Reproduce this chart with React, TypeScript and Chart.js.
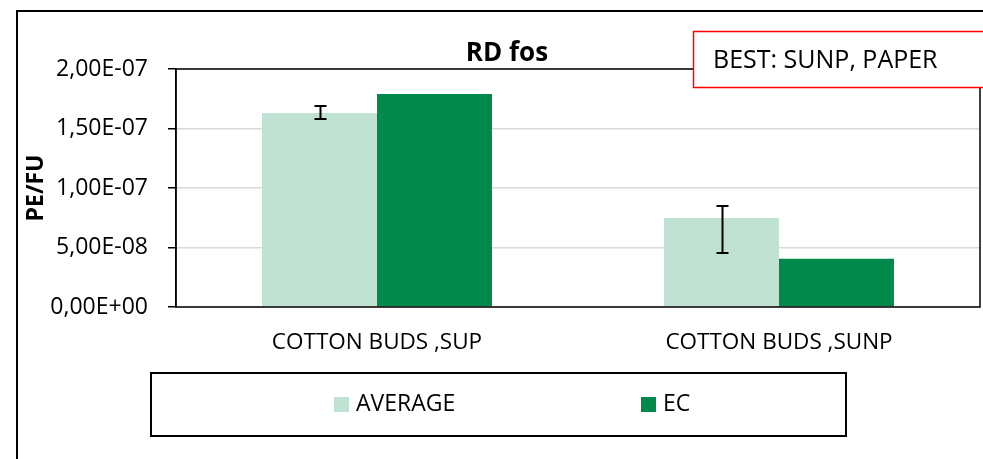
import React, { useEffect, useRef } from "react";
import { Chart, registerables } from "chart.js";

Chart.register(...registerables);

const categories = ["COTTON BUDS ,SUP", "COTTON BUDS ,SUNP"];
const averageValues = [1.63e-7, 7.48e-8];
const averageErrLow = [1.58e-7, 4.54e-8];
const averageErrHigh = [1.69e-7, 8.49e-8];
const ecValues = [1.79e-7, 4.06e-8];
const seriesLabels = ["AVERAGE", "EC"];
const seriesColors = ["#BFE2D3", "#00894B"];
const chartTitle = "RD fos";
const yAxisTitle = "PE/FU";
const noteText = "BEST: SUNP, PAPER";
const yMin = 0;
const yMax = 2e-7;
const yStep = 5e-8;

const FONT = "'Open Sans', 'Liberation Sans', sans-serif";

function sci(v: number): string {
  if (Math.abs(v) < 1e-30) return "0,00E+00";
  let exp = Math.floor(Math.log10(Math.abs(v)) + 1e-9);
  let mant = v / Math.pow(10, exp);
  if (Math.abs(mant) >= 9.995) {
    exp += 1;
    mant = v / Math.pow(10, exp);
  }
  const sign = exp < 0 ? "-" : "+";
  return mant.toFixed(2).replace(".", ",") + "E" + sign + String(Math.abs(exp)).padStart(2, "0");
}

const decorPlugin = {
  id: "decor",
  beforeDraw(chart: any) {
    const ctx = chart.ctx;
    ctx.save();
    ctx.fillStyle = "#ffffff";
    ctx.fillRect(0, 0, chart.width, chart.height);
    ctx.restore();
  },
  afterDatasetsDraw(chart: any) {
    const ctx = chart.ctx;
    const yScale = chart.scales.y;
    const area = chart.chartArea;
    ctx.save();
    // error bars on AVERAGE
    const meta = chart.getDatasetMeta(0);
    ctx.strokeStyle = "#000000";
    ctx.lineWidth = 2;
    meta.data.forEach((bar: any, i: number) => {
      const x = Math.round(bar.x) + 0.5;
      const yLo = yScale.getPixelForValue(averageErrLow[i]);
      const yHi = yScale.getPixelForValue(averageErrHigh[i]);
      ctx.beginPath();
      ctx.moveTo(x, yLo);
      ctx.lineTo(x, yHi);
      ctx.moveTo(x - 6, yLo);
      ctx.lineTo(x + 6, yLo);
      ctx.moveTo(x - 6, yHi);
      ctx.lineTo(x + 6, yHi);
      ctx.stroke();
    });
    // plot area border
    ctx.strokeStyle = "#000000";
    ctx.lineWidth = 1.5;
    ctx.strokeRect(area.left, area.top, area.right - area.left, area.bottom - area.top);
    ctx.restore();
  },
  afterDraw(chart: any) {
    const ctx = chart.ctx;
    ctx.save();
    // outer chart border
    ctx.strokeStyle = "#000000";
    ctx.lineWidth = 2;
    ctx.beginPath();
    ctx.moveTo(17, chart.height + 5);
    ctx.lineTo(17, 11);
    ctx.lineTo(chart.width + 5, 11);
    ctx.stroke();

    // title
    ctx.fillStyle = "#000000";
    ctx.font = `bold 26px ${FONT}`;
    ctx.textAlign = "center";
    ctx.textBaseline = "alphabetic";
    ctx.fillText(chartTitle, 507, 61);

    // note box
    ctx.fillStyle = "#ffffff";
    ctx.fillRect(693, 31, 300, 56);
    ctx.strokeStyle = "#FF0000";
    ctx.lineWidth = 1.5;
    ctx.strokeRect(693.5, 31.5, 300, 56);
    ctx.fillStyle = "#000000";
    ctx.font = `25px ${FONT}`;
    ctx.textAlign = "left";
    ctx.fillText(noteText, 713, 68);

    // legend box
    ctx.strokeStyle = "#000000";
    ctx.lineWidth = 2;
    ctx.strokeRect(151, 373, 695, 63);
    const itemX = [334, 641];
    chart.data.datasets.forEach((ds: any, i: number) => {
      ctx.fillStyle = ds.backgroundColor;
      ctx.fillRect(itemX[i], 397, 15, 15);
      ctx.fillStyle = "#000000";
      ctx.font = `23px ${FONT}`;
      ctx.textAlign = "left";
      ctx.textBaseline = "middle";
      ctx.fillText(ds.label, itemX[i] + 22, 404);
    });
    ctx.restore();
  },
};

export default function App() {
  const canvasRef = useRef<HTMLCanvasElement | null>(null);

  useEffect(() => {
    if (!canvasRef.current) return;
    const chart = new Chart(canvasRef.current, {
      type: "bar",
      data: {
        labels: categories,
        datasets: [
          {
            label: seriesLabels[0],
            data: averageValues,
            backgroundColor: seriesColors[0],
            categoryPercentage: 0.572,
            barPercentage: 1.0,
          },
          {
            label: seriesLabels[1],
            data: ecValues,
            backgroundColor: seriesColors[1],
            categoryPercentage: 0.572,
            barPercentage: 1.0,
          },
        ],
      },
      options: {
        responsive: false,
        animation: false,
        devicePixelRatio: 1,
        layout: { padding: { left: 16, top: 69, right: 3, bottom: 0 } },
        plugins: {
          legend: { display: false },
          title: { display: false },
          tooltip: { enabled: false },
        },
        scales: {
          x: {
            grid: { display: false },
            border: { display: false },
            ticks: {
              color: "#000000",
              font: { family: FONT, size: 22.5 },
              padding: 14,
              maxRotation: 0,
            },
            afterFit: (scale: any) => {
              scale.height = 152;
            },
          },
          y: {
            min: yMin,
            max: yMax,
            grid: {
              color: "#D9D9D9",
              lineWidth: 1.5,
              tickLength: 8,
              tickColor: "#000000",
            },
            border: { display: true, color: "#000000", width: 1.5 },
            ticks: {
              stepSize: yStep,
              color: "#000000",
              font: { family: FONT, size: 23 },
              padding: 20,
              callback: (v: any) => sci(Number(v)),
            },
            title: {
              display: true,
              text: yAxisTitle,
              color: "#000000",
              font: { family: FONT, size: 23, weight: "bold" },
              padding: { top: 7, bottom: 0 },
            },
            afterFit: (scale: any) => {
              scale.width = 160;
            },
          },
        },
      },
      plugins: [decorPlugin],
    });
    return () => chart.destroy();
  }, []);

  return (
    <div style={{ position: "absolute", left: 0, top: 0, width: 983, height: 459 }}>
      <canvas ref={canvasRef} width={983} height={459} style={{ width: 983, height: 459 }} />
    </div>
  );
}
